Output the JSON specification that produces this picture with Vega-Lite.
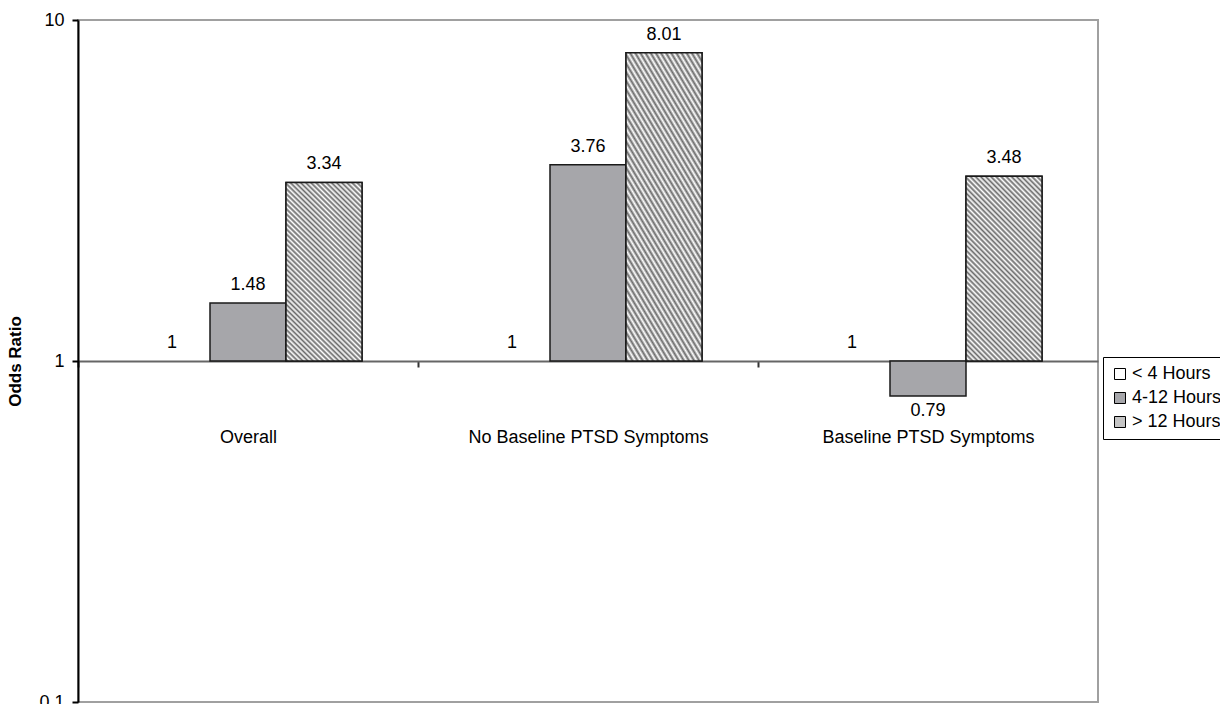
{
  "$schema": "https://vega.github.io/schema/vega-lite/v6.json",
  "width": 1020,
  "height": 682,
  "autosize": {"type": "none"},
  "padding": {"left": 78, "top": 20, "right": 122, "bottom": 2},
  "background": "white",
  "config": {
    "view": {"stroke": "#a0a0a0", "strokeWidth": 2},
    "font": "Liberation Sans"
  },
  "data": {
    "values": [
      {"group": "Overall", "series": "< 4 Hours", "value": 1, "reference": 1},
      {"group": "Overall", "series": "4-12 Hours", "value": 1.48, "reference": 1},
      {"group": "Overall", "series": "> 12 Hours", "value": 3.34, "reference": 1},
      {"group": "No Baseline PTSD Symptoms", "series": "< 4 Hours", "value": 1, "reference": 1},
      {"group": "No Baseline PTSD Symptoms", "series": "4-12 Hours", "value": 3.76, "reference": 1},
      {"group": "No Baseline PTSD Symptoms", "series": "> 12 Hours", "value": 8.01, "reference": 1},
      {"group": "Baseline PTSD Symptoms", "series": "< 4 Hours", "value": 1, "reference": 1},
      {"group": "Baseline PTSD Symptoms", "series": "4-12 Hours", "value": 0.79, "reference": 1},
      {"group": "Baseline PTSD Symptoms", "series": "> 12 Hours", "value": 3.48, "reference": 1}
    ]
  },
  "encoding": {
    "x": {
      "field": "group",
      "type": "nominal",
      "sort": null,
      "scale": {"paddingInner": 0.3294, "paddingOuter": 0.1647},
      "axis": {
        "title": null,
        "offset": -341,
        "labelAngle": 0,
        "labelFontSize": 18,
        "labelFont": "Liberation Sans",
        "labelColor": "black",
        "labelPadding": 61,
        "labelLimit": 400,
        "tickSize": 6,
        "tickColor": "#333333",
        "tickWidth": 2,
        "tickOffset": -170,
        "labelOffset": 170,
        "domainColor": "#666666",
        "domainWidth": 2,
        "zindex": 0
      }
    },
    "xOffset": {
      "field": "series",
      "type": "nominal",
      "sort": ["< 4 Hours", "4-12 Hours", "> 12 Hours"],
      "scale": {"paddingInner": 0, "paddingOuter": 0}
    }
  },
  "layer": [
    {
      "mark": {"type": "bar", "stroke": "#1a1a1a", "strokeWidth": 1.5},
      "encoding": {
        "y": {
          "field": "value",
          "type": "quantitative",
          "scale": {"type": "log", "domain": [0.1, 10]},
          "axis": {
            "title": "Odds Ratio",
            "titleFontSize": 17,
            "titleFontWeight": "bold",
            "titleFont": "Liberation Sans",
            "titleColor": "black",
            "titlePadding": 14,
            "values": [0.1, 1, 10],
            "format": "~g",
            "grid": false,
            "tickSize": 6,
            "tickColor": "black",
            "tickWidth": 2,
            "labelPadding": 8,
            "labelFontSize": 18,
            "labelFont": "Liberation Sans",
            "labelColor": "black",
            "domainColor": "black",
            "domainWidth": 2
          }
        },
        "y2": {"field": "reference"},
        "strokeOpacity": {"condition": {"test": "datum.value == 1", "value": 0}, "value": 1},
        "fill": {
          "field": "series",
          "type": "nominal",
          "sort": ["< 4 Hours", "4-12 Hours", "> 12 Hours"],
          "scale": {"range": ["#ffffff", "#a6a6aa", "#c4c4c4"]},
          "legend": {
            "title": null,
            "orient": "none",
            "legendX": 1025,
            "legendY": 337,
            "symbolType": "square",
            "symbolSize": 121,
            "symbolStrokeColor": "black",
            "symbolStrokeWidth": 1,
            "symbolOpacity": 1,
            "labelFontSize": 18,
            "labelFont": "Liberation Sans",
            "labelColor": "black",
            "labelOffset": 3,
            "labelLimit": 200,
            "rowPadding": 6,
            "padding": 8,
            "strokeColor": "black",
            "fillColor": "white"
          }
        }
      }
    },
    {
      "transform": [{"filter": "datum.series == '> 12 Hours'"}],
      "mark": {
        "type": "bar",
        "stroke": "#1a1a1a",
        "strokeWidth": 1.5,
        "fill": {
          "gradient": "linear",
          "x1": 1, "y1": 0, "x2": 0, "y2": 2.4,
          "stops": [
            {"offset": 0, "color": "#6a6a6a"},{"offset": 0.005, "color": "#ffffff"},
            {"offset": 0.01, "color": "#6a6a6a"},{"offset": 0.015, "color": "#ffffff"},
            {"offset": 0.02, "color": "#6a6a6a"},{"offset": 0.025, "color": "#ffffff"},
            {"offset": 0.03, "color": "#6a6a6a"},{"offset": 0.035, "color": "#ffffff"},
            {"offset": 0.04, "color": "#6a6a6a"},{"offset": 0.045, "color": "#ffffff"},
            {"offset": 0.05, "color": "#6a6a6a"},{"offset": 0.055, "color": "#ffffff"},
            {"offset": 0.06, "color": "#6a6a6a"},{"offset": 0.065, "color": "#ffffff"},
            {"offset": 0.07, "color": "#6a6a6a"},{"offset": 0.075, "color": "#ffffff"},
            {"offset": 0.08, "color": "#6a6a6a"},{"offset": 0.085, "color": "#ffffff"},
            {"offset": 0.09, "color": "#6a6a6a"},{"offset": 0.095, "color": "#ffffff"},
            {"offset": 0.1, "color": "#6a6a6a"},{"offset": 0.105, "color": "#ffffff"},
            {"offset": 0.11, "color": "#6a6a6a"},{"offset": 0.115, "color": "#ffffff"},
            {"offset": 0.12, "color": "#6a6a6a"},{"offset": 0.125, "color": "#ffffff"},
            {"offset": 0.13, "color": "#6a6a6a"},{"offset": 0.135, "color": "#ffffff"},
            {"offset": 0.14, "color": "#6a6a6a"},{"offset": 0.145, "color": "#ffffff"},
            {"offset": 0.15, "color": "#6a6a6a"},{"offset": 0.155, "color": "#ffffff"},
            {"offset": 0.16, "color": "#6a6a6a"},{"offset": 0.165, "color": "#ffffff"},
            {"offset": 0.17, "color": "#6a6a6a"},{"offset": 0.175, "color": "#ffffff"},
            {"offset": 0.18, "color": "#6a6a6a"},{"offset": 0.185, "color": "#ffffff"},
            {"offset": 0.19, "color": "#6a6a6a"},{"offset": 0.195, "color": "#ffffff"},
            {"offset": 0.2, "color": "#6a6a6a"},{"offset": 0.205, "color": "#ffffff"},
            {"offset": 0.21, "color": "#6a6a6a"},{"offset": 0.215, "color": "#ffffff"},
            {"offset": 0.22, "color": "#6a6a6a"},{"offset": 0.225, "color": "#ffffff"},
            {"offset": 0.23, "color": "#6a6a6a"},{"offset": 0.235, "color": "#ffffff"},
            {"offset": 0.24, "color": "#6a6a6a"},{"offset": 0.245, "color": "#ffffff"},
            {"offset": 0.25, "color": "#6a6a6a"},{"offset": 0.255, "color": "#ffffff"},
            {"offset": 0.26, "color": "#6a6a6a"},{"offset": 0.265, "color": "#ffffff"},
            {"offset": 0.27, "color": "#6a6a6a"},{"offset": 0.275, "color": "#ffffff"},
            {"offset": 0.28, "color": "#6a6a6a"},{"offset": 0.285, "color": "#ffffff"},
            {"offset": 0.29, "color": "#6a6a6a"},{"offset": 0.295, "color": "#ffffff"},
            {"offset": 0.3, "color": "#6a6a6a"},{"offset": 0.305, "color": "#ffffff"},
            {"offset": 0.31, "color": "#6a6a6a"},{"offset": 0.315, "color": "#ffffff"},
            {"offset": 0.32, "color": "#6a6a6a"},{"offset": 0.325, "color": "#ffffff"},
            {"offset": 0.33, "color": "#6a6a6a"},{"offset": 0.335, "color": "#ffffff"},
            {"offset": 0.34, "color": "#6a6a6a"},{"offset": 0.345, "color": "#ffffff"},
            {"offset": 0.35, "color": "#6a6a6a"},{"offset": 0.355, "color": "#ffffff"},
            {"offset": 0.36, "color": "#6a6a6a"},{"offset": 0.365, "color": "#ffffff"},
            {"offset": 0.37, "color": "#6a6a6a"},{"offset": 0.375, "color": "#ffffff"},
            {"offset": 0.38, "color": "#6a6a6a"},{"offset": 0.385, "color": "#ffffff"},
            {"offset": 0.39, "color": "#6a6a6a"},{"offset": 0.395, "color": "#ffffff"},
            {"offset": 0.4, "color": "#6a6a6a"},{"offset": 0.405, "color": "#ffffff"},
            {"offset": 0.41, "color": "#6a6a6a"},{"offset": 0.415, "color": "#ffffff"},
            {"offset": 0.42, "color": "#6a6a6a"},{"offset": 0.425, "color": "#ffffff"},
            {"offset": 0.43, "color": "#6a6a6a"},{"offset": 0.435, "color": "#ffffff"},
            {"offset": 0.44, "color": "#6a6a6a"},{"offset": 0.445, "color": "#ffffff"},
            {"offset": 0.45, "color": "#6a6a6a"},{"offset": 0.455, "color": "#ffffff"},
            {"offset": 0.46, "color": "#6a6a6a"},{"offset": 0.465, "color": "#ffffff"},
            {"offset": 0.47, "color": "#6a6a6a"},{"offset": 0.475, "color": "#ffffff"},
            {"offset": 0.48, "color": "#6a6a6a"},{"offset": 0.485, "color": "#ffffff"},
            {"offset": 0.49, "color": "#6a6a6a"},{"offset": 0.495, "color": "#ffffff"},
            {"offset": 0.5, "color": "#6a6a6a"},{"offset": 1, "color": "#6a6a6a"}
          ]
        }
      },
      "encoding": {
        "y": {"field": "value", "type": "quantitative"},
        "y2": {"field": "reference"}
      }
    },
    {
      "transform": [{"filter": "datum.value >= 1"}],
      "mark": {"type": "text", "baseline": "alphabetic", "dy": -13, "fontSize": 18, "font": "Liberation Sans", "color": "black"},
      "encoding": {
        "y": {"field": "value", "type": "quantitative"},
        "text": {"field": "value", "type": "quantitative", "format": "~g"}
      }
    },
    {
      "transform": [{"filter": "datum.value < 1"}],
      "mark": {"type": "text", "baseline": "alphabetic", "dy": 20, "fontSize": 18, "font": "Liberation Sans", "color": "black"},
      "encoding": {
        "y": {"field": "value", "type": "quantitative"},
        "text": {"field": "value", "type": "quantitative", "format": "~g"}
      }
    }
  ]
}
